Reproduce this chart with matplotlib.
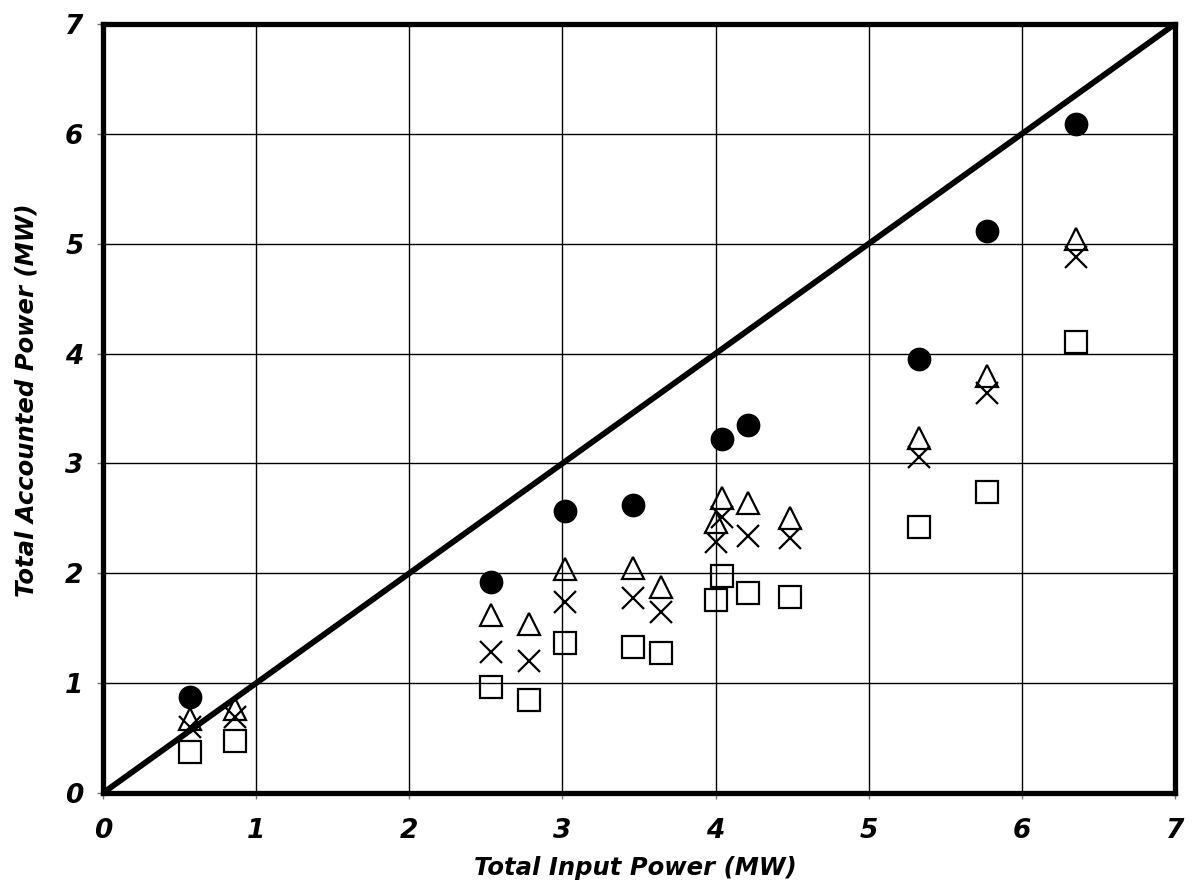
import numpy as np
import matplotlib
matplotlib.use("Agg")
import matplotlib.pyplot as plt

nan = np.nan
# Total input power (MW)
x_input = [0.568, 0.862, 2.534, 2.784, 3.017, 3.461, 3.644, 4.000, 4.042, 4.209, 4.486, 5.326, 5.770, 6.352]
# Accounted power series (MW)
circle_vals = [0.874, nan, 1.921, nan, 2.567, 2.622, nan, nan, 3.222, 3.350, nan, 3.948, 5.116, 6.087]
triangle_vals = [0.676, 0.765, 1.620, 1.541, 2.039, 2.048, 1.875, 2.467, 2.681, 2.641, 2.506, 3.234, 3.796, 5.043]
cross_vals = [0.604, 0.694, 1.286, 1.202, 1.741, 1.778, 1.650, 2.288, 2.515, 2.341, 2.317, 3.054, 3.644, 4.882]
square_vals = [0.376, 0.476, 0.962, 0.847, 1.363, 1.332, 1.271, 1.761, 1.975, 1.823, 1.787, 2.418, 2.743, 4.108]
ticks = [0, 1, 2, 3, 4, 5, 6, 7]
xlabel = "Total Input Power (MW)"
ylabel = "Total Accounted Power (MW)"

plt.rcParams['font.family'] = ['DejaVu Sans']
fig = plt.figure(figsize=(11.94, 8.94), dpi=100)
ax = fig.add_axes([103/1194, 101/894, (1175-103)/1194, (793-24)/894])

ms = 15.5
mew = 1.6
ax.plot(x_input, square_vals, linestyle='none', marker='s', ms=ms, mfc='none', mec='black', mew=mew, zorder=3)
ax.plot(x_input, cross_vals, linestyle='none', marker='x', ms=ms, mec='black', mew=mew, zorder=3)
ax.plot(x_input, triangle_vals, linestyle='none', marker='^', ms=ms, mfc='none', mec='black', mew=mew, zorder=3)
ax.plot(x_input, circle_vals, linestyle='none', marker='o', ms=ms, mfc='black', mec='black', mew=mew, zorder=3)
ax.plot([0, 7], [0, 7], color='black', lw=4.2, zorder=4, solid_capstyle='butt')

ax.set_xlim(0, 7)
ax.set_ylim(0, 7)
ax.set_xticks(ticks)
ax.set_yticks(ticks)
tick_font = dict(family='DejaVu Sans', weight='bold', style='italic', size=19)
ax.set_xticklabels([str(t) for t in ticks], fontdict=tick_font)
ax.set_yticklabels([str(t) for t in ticks], fontdict=tick_font)
ax.tick_params(axis='both', direction='out', length=4, width=1, color='#777777')
ax.tick_params(axis='x', pad=14)
ax.tick_params(axis='y', pad=10)
ax.grid(True, color='black', lw=1.0, zorder=1)
ax.set_axisbelow(True)
for sp in ax.spines.values():
    sp.set_linewidth(3.8)
    sp.set_color('black')
    sp.set_zorder(5)

lab_fs = 17.5
fig.text(635/1194, 1 - 868/894, xlabel, ha='center', va='center', fontsize=lab_fs,
         family='DejaVu Sans', weight='bold', style='italic')
fig.text(27/1194, 1 - 400/894, ylabel, ha='center', va='center', rotation=90, fontsize=lab_fs,
         family='DejaVu Sans', weight='bold', style='italic')

fig.savefig('out.png', dpi=100)
